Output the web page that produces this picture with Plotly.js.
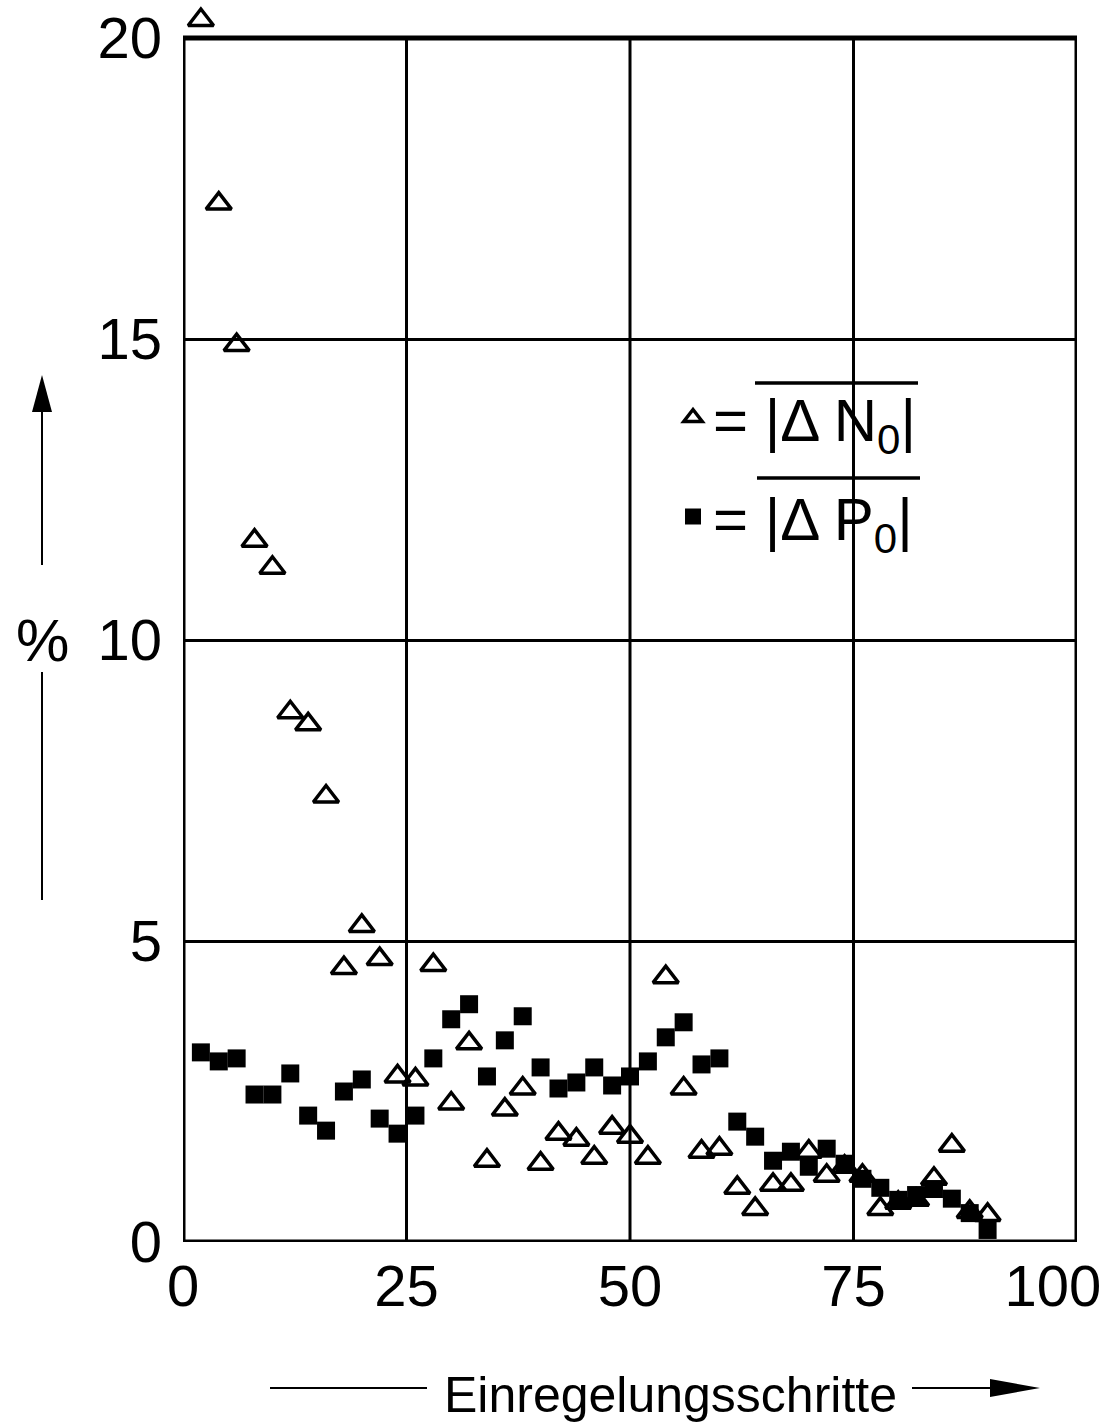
<!DOCTYPE html>
<html>
<head>
<meta charset="utf-8">
<script src="https://cdn.plot.ly/plotly-3.0.1.min.js"></script>
<style>body{margin:0;background:#fff}#chart{width:1103px;height:1428px}</style>
</head>
<body>
<div id="chart"></div>
<script>
// Einregelungsschritte (steps)
var steps = [2,4,6,8,10,12,14,16,18,20,22,24,26,28,30,32,34,36,38,40,42,44,46,48,50,52,54,56,58,60,62,64,66,68,70,72,74,76,78,80,82,84,86,88,90];
// mean |ΔN0| in %
var deltaN0 = [20.3,17.25,14.9,11.65,11.2,8.8,8.6,7.4,4.55,5.25,4.7,2.75,2.7,4.6,2.3,3.3,1.35,2.2,2.55,1.3,1.8,1.7,1.4,1.9,1.75,1.4,4.4,2.55,1.5,1.55,0.9,0.55,0.95,0.95,1.5,1.1,1.25,1.1,0.55,0.65,0.7,1.05,1.6,0.5,0.45];
// mean |ΔP0| in %
var deltaP0 = [3.15,3.0,3.05,2.45,2.45,2.8,2.1,1.85,2.5,2.7,2.05,1.8,2.1,3.05,3.7,3.95,2.75,3.35,3.75,2.9,2.55,2.65,2.9,2.6,2.75,3.0,3.4,3.65,2.95,3.05,2.0,1.75,1.35,1.5,1.25,1.55,1.3,1.05,0.9,0.7,0.78,0.88,0.72,0.48,0.2];
var xTicks = [0,25,50,75,100];
var xTickText = ['0','25','50','75','100\u00A0\u00A0\u00A0'];
var yTicks = [0,5,10,15,20];
var yTickText = ['0','5','10','15','20'];
var nameN = '= |Δ N<sub>0</sub>|';
var nameP = '= |Δ P<sub>0</sub>|';

var FONT = 'Liberation Sans, Arial, sans-serif';
var W = 1103, H = 1428, ML = 183, MR = 26, MT = 17, MB = 186;
var YMAX = 20, YTOP = 20.35, XMAX = 100;
function PX(px){ return (px - ML) / (W - ML - MR); }
function PY(py){ return (H - MB - py) / (H - MB - MT); }

var traces = [
  {x: steps, y: deltaN0, type: 'scatter', mode: 'markers', name: nameN, legendgroup: 'n', cliponaxis: false,
   marker: {symbol: 'triangle-up-open', size: 22, color: '#000', line: {width: 3.5, color: '#000'}}},
  {x: steps, y: deltaP0, type: 'scatter', mode: 'markers', name: nameP, legendgroup: 'p', cliponaxis: false,
   marker: {symbol: 'square', size: 18, color: '#000', line: {width: 0}}}
];

function L(x0,y0,x1,y1,w){return {type:'line',xref:'paper',yref:'paper',x0:PX(x0),y0:PY(y0),x1:PX(x1),y1:PY(y1),line:{color:'#000',width:w}};}
function P(pts){
  var s = pts.map(function(p,i){return (i?'L ':'M ')+PX(p[0])+','+PY(p[1]);}).join(' ')+' Z';
  return {type:'path',xref:'paper',yref:'paper',path:s,fillcolor:'#000',line:{width:0}};
}

// vertical grid lines, limited to the 0..20 frame
var vGrid = xTicks.map(function(t){
  return {type: 'line', xref: 'x', yref: 'y', x0: t, x1: t, y0: 0, y1: YMAX, layer: 'below',
          line: {color: '#000', width: 3}};
});

var layout = {
  width: W, height: H,
  margin: {l: ML, r: MR, t: MT, b: MB},
  paper_bgcolor: '#fff', plot_bgcolor: '#fff',
  font: {family: FONT, color: '#000', size: 56},
  showlegend: true,
  legend: {x: PX(673), y: PY(372), xanchor: 'left', yanchor: 'top', bgcolor: 'rgba(0,0,0,0)',
           traceorder: 'grouped', tracegroupgap: 18,
           font: {family: FONT, size: 60, color: '#000'}},
  xaxis: {range: [0, XMAX], tickvals: xTicks, ticktext: xTickText, showgrid: false,
          showline: false, zeroline: false, ticks: '',
          ticklabeloverflow: 'allow', ticklabelstandoff: 5, tickfont: {family: FONT, size: 58}},
  yaxis: {range: [0, YTOP], tickvals: yTicks, ticktext: yTickText, showgrid: true,
          gridcolor: '#000', gridwidth: 3, showline: false, zeroline: false, ticks: '',
          ticklabeloverflow: 'allow', ticklabelstandoff: 20, tickfont: {family: FONT, size: 58}},
  annotations: [
    {text: 'Einregelungsschritte', xref: 'paper', yref: 'paper', x: PX(670), y: PY(1395), showarrow: false,
     xanchor: 'center', yanchor: 'middle', font: {family: FONT, size: 50}},
    {text: '%', xref: 'paper', yref: 'paper', x: PX(42), y: PY(640), showarrow: false,
     xanchor: 'center', yanchor: 'middle', font: {family: FONT, size: 60}}
  ],
  shapes: vGrid.concat([
    // plot frame
    {type: 'rect', xref: 'x', yref: 'y', x0: 0, x1: XMAX, y0: 0, y1: YMAX, layer: 'below',
     line: {color: '#000', width: 5}},
    // overlines for legend
    L(755, 383, 918, 383, 3.5),
    L(757, 478, 920, 478, 3.5),
    // y arrow
    L(42, 410, 42, 565, 2),
    L(42, 672, 42, 900, 2),
    P([[42, 375], [32, 412], [52, 412]]),
    // x arrow
    L(270, 1388, 427, 1388, 2),
    L(912, 1388, 992, 1388, 2),
    P([[1040, 1388], [990, 1379], [990, 1397]])
  ])
};

Plotly.newPlot('chart', traces, layout, {displayModeBar: false, staticPlot: true});
</script>
</body>
</html>
